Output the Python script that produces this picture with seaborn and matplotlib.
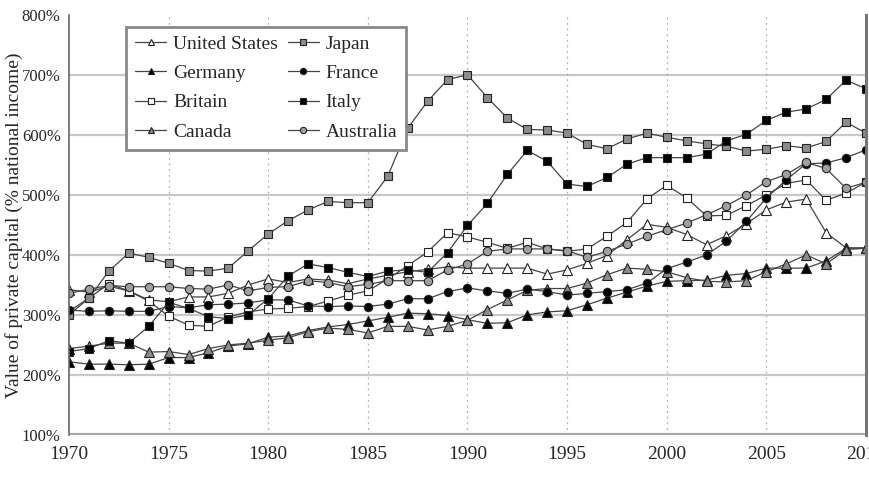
import numpy as np
import pandas as pd
import matplotlib
matplotlib.use("Agg")
import matplotlib.pyplot as plt
import seaborn as sns

years = list(range(1970, 2011))

united_states = [342, 338, 348, 340, 325, 322, 330, 330, 336, 350,
                 360, 354, 360, 358, 352, 360, 366, 372, 376, 380,
                 378, 378, 378, 378, 368, 375, 386, 399, 425, 451,
                 446, 434, 417, 432, 452, 475, 488, 493, 437, 412, 411]
japan = [300, 328, 373, 403, 396, 386, 374, 373, 378, 407,
         435, 457, 475, 489, 487, 487, 531, 611, 656, 692,
         700, 662, 628, 609, 608, 603, 584, 577, 593, 603,
         596, 590, 585, 581, 573, 576, 582, 578, 589, 621, 603]
germany = [222, 218, 218, 217, 218, 229, 229, 237, 248, 252,
           263, 265, 274, 280, 284, 290, 296, 303, 302, 299,
           292, 286, 287, 300, 305, 307, 317, 328, 338, 348,
           356, 357, 358, 366, 369, 378, 378, 378, 390, 411, 412]
france = [308, 306, 307, 306, 306, 314, 312, 317, 318, 320,
          325, 325, 315, 314, 315, 314, 318, 327, 327, 339,
          345, 340, 336, 343, 339, 333, 336, 339, 342, 353,
          377, 388, 400, 423, 456, 495, 525, 552, 553, 562, 575]
britain = [306, 328, 352, 340, 323, 298, 283, 281, 297, 305,
           310, 311, 314, 323, 333, 340, 360, 382, 405, 437,
           430, 421, 411, 421, 410, 406, 410, 431, 454, 493,
           516, 495, 465, 466, 482, 500, 519, 525, 491, 503, 521]
italy = [239, 244, 257, 253, 281, 321, 311, 297, 294, 300,
         327, 365, 385, 379, 371, 364, 373, 375, 371, 404,
         449, 486, 534, 574, 556, 518, 514, 529, 551, 562,
         562, 562, 568, 590, 601, 624, 638, 643, 659, 691, 677]
canada = [244, 248, 253, 253, 238, 239, 234, 244, 250, 253,
          258, 262, 272, 278, 276, 270, 281, 281, 275, 281,
          291, 309, 325, 341, 344, 344, 353, 367, 378, 376,
          372, 362, 356, 355, 357, 372, 385, 400, 385, 409, 411]
australia = [336, 343, 349, 347, 347, 347, 344, 343, 350, 340,
             346, 347, 357, 354, 347, 351, 357, 357, 357, 375,
             385, 406, 410, 410, 410, 407, 396, 406, 418, 431,
             442, 453, 467, 482, 500, 522, 534, 554, 544, 511, 521]

# legend order (two columns, filled column by column)
series = [
    ("United States", united_states, "^", "white"),
    ("Germany", germany, "^", "black"),
    ("Britain", britain, "s", "white"),
    ("Canada", canada, "^", "#8c8c8c"),
    ("Japan", japan, "s", "#8c8c8c"),
    ("France", france, "o", "black"),
    ("Italy", italy, "s", "black"),
    ("Australia", australia, "o", "#a0a0a0"),
]

sns.set_style("white")
plt.rcParams["font.family"] = ["Liberation Serif", "DejaVu Serif"]

fig, ax = plt.subplots(figsize=(8.69, 4.78), dpi=100)
fig.subplots_adjust(left=0.0794, right=0.9965, bottom=0.090, top=0.969)

for yv in range(200, 800, 100):
    ax.axhline(yv, color="#c8c8c8", lw=1.6, zorder=0)
ax.axhline(100, color="#a8a8a8", lw=3, zorder=0)
for xv in range(1975, 2010, 5):
    ax.axvline(xv, color="#b0b0b0", lw=0.9, ls=(0, (1.5, 3)), zorder=0)

for name, vals, mk, fc in series:
    df = pd.DataFrame({"year": years, "value": vals})
    ms = 6.5 if mk == "^" else 6
    sns.lineplot(data=df, x="year", y="value", ax=ax, color="#444444",
                 lw=0.9, marker=mk, markersize=ms, markerfacecolor=fc,
                 markeredgecolor="#222222", markeredgewidth=0.8, label=name)

ax.set_xlim(1970, 2010)
ax.set_ylim(100, 800)
ax.set_xticks(range(1970, 2011, 5))
ax.set_xticklabels(["1970", "1975", "1980", "1985", "1990", "1995", "2000", "2005", "2010"])
ax.set_yticks(range(100, 801, 100))
ax.set_yticklabels([f"{v}%" for v in range(100, 801, 100)])
ax.tick_params(axis="x", direction="out", length=6, width=1, color="#777777",
               labelsize=14, pad=2)
ax.tick_params(axis="y", direction="inout", length=8, width=1, color="#777777",
               labelsize=12, pad=2)
ax.set_xlabel("")
ax.set_ylabel("Value of private capital (% national income)", fontsize=14)
ax.yaxis.set_label_coords(-0.058, 0.5)

for s in ["top", "bottom"]:
    ax.spines[s].set_visible(False)
ax.spines["left"].set_color("#666666")
ax.spines["left"].set_linewidth(1.2)
ax.spines["right"].set_color("#777777")
ax.spines["right"].set_linewidth(2.2)

leg = ax.legend(ncol=2, loc="upper left", bbox_to_anchor=(0.072, 0.972),
                fontsize=14, frameon=True, fancybox=False, framealpha=1,
                edgecolor="#888888", handlelength=1.6, handletextpad=0.35,
                columnspacing=0.5, labelspacing=0.6, borderpad=0.45,
                markerscale=0.75, borderaxespad=0)
leg.get_frame().set_linewidth(2)

fig.savefig("out.png", dpi=100, facecolor="white")
